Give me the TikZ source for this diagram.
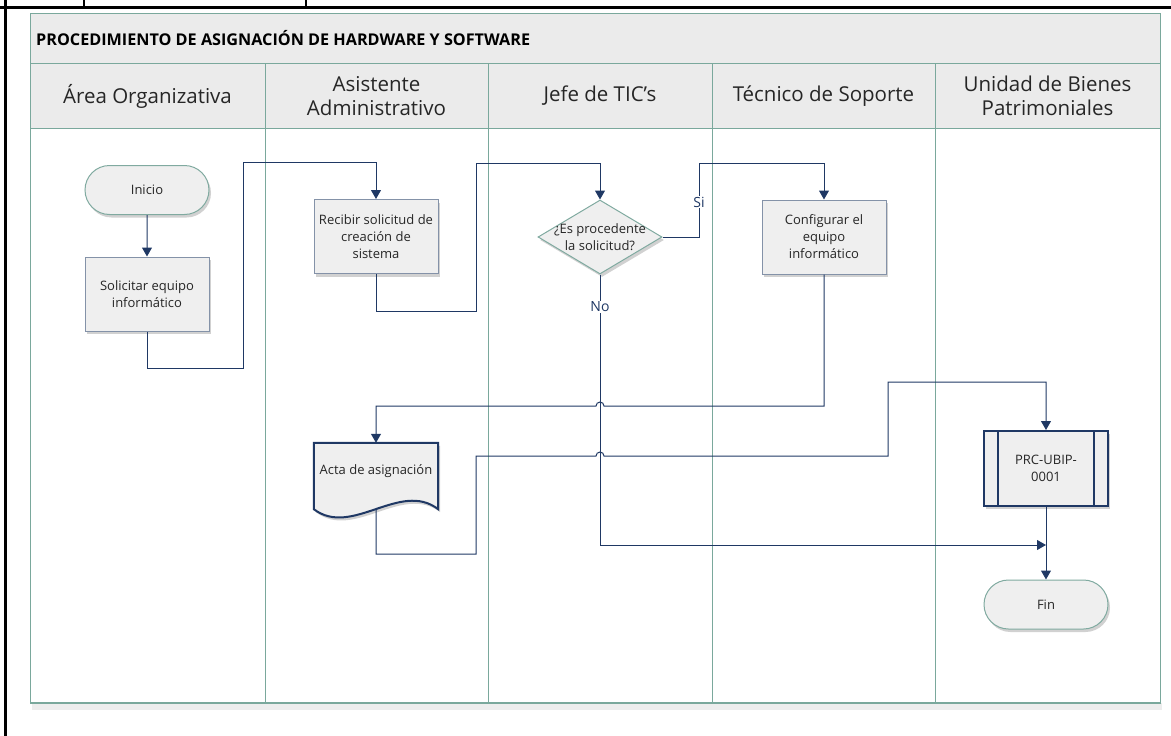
\documentclass[tikz,border=0pt]{standalone}
\usepackage{fontspec}
\setmainfont{Open Sans}
\usetikzlibrary{shapes.geometric,shapes.misc,shadows,arrows.meta,calc}
\definecolor{lanec}{HTML}{7AA89C}
\definecolor{navy}{HTML}{1F3864}
\definecolor{hdr}{HTML}{EBEBEB}
\definecolor{nfill}{HTML}{EFEFEF}
\definecolor{pborder}{HTML}{8492A8}
\definecolor{tborder}{HTML}{80AAA0}
\definecolor{txt}{HTML}{262626}
\tikzset{
  shd/.style={drop shadow={shadow xshift=2pt,shadow yshift=-3pt,fill=black,opacity=0.18}},
  nodetext/.style={font=\fontsize{13}{17}\selectfont,text=txt,align=center},
  procbox/.style={rectangle,draw=pborder,line width=1pt,fill=nfill,minimum width=124pt,minimum height=74pt,inner sep=0pt,shd,nodetext},
  termbox/.style={rounded rectangle,draw=tborder,line width=1pt,fill=nfill,minimum width=124pt,minimum height=49pt,inner sep=0pt,shd,nodetext},
  decbox/.style={diamond,draw=tborder,line width=1pt,fill=nfill,minimum width=124pt,minimum height=74pt,inner sep=0pt,shd},
  subbox/.style={rectangle,draw=navy,line width=2pt,fill=nfill,minimum width=124pt,minimum height=75pt,inner sep=0pt,shd,nodetext},
  conn/.style={draw=navy,line width=1pt},
  arr/.style={conn,-{Triangle[width=10pt,length=9pt]}},
  lanehead/.style={font=\fontsize{20.5}{24}\selectfont,text=txt,align=center},
  lbl/.style={fill=white,inner sep=1pt,font=\fontsize{14}{16}\selectfont,text=navy},
}
\begin{document}
\begin{tikzpicture}[x=1pt,y=-1pt]
\useasboundingbox (0,0) rectangle (1171,736);
% outer document table lines
\draw[line width=3pt] (0,7) -- (1171,7);
\draw[line width=3pt] (5,0) -- (5,736);
\draw[line width=2pt] (84,0) -- (84,7);
\draw[line width=2pt] (306,0) -- (306,7);
% swimlane frame
\fill[black,opacity=0.07] (32,703) rectangle (1162,710);
\fill[hdr] (30,13) rectangle (1160,128);
\draw[lanec,line width=1pt] (30,13) rectangle (1160,703);
\draw[lanec,line width=1pt] (30,63) -- (1160,63);
\draw[lanec,line width=1pt] (30,128) -- (1160,128);
\draw[lanec,line width=2.5pt] (30,703) -- (1160,703);
\foreach \xx in {265,488,712,935} \draw[lanec,line width=1pt] (\xx,63) -- (\xx,703);
\node[anchor=west,font=\bfseries\fontsize{16.2}{19}\selectfont,text=black,inner sep=0pt] (title) at (36,38) {PROCEDIMIENTO DE ASIGNACIÓN DE HARDWARE Y SOFTWARE};
\node[lanehead] (h1) at (147.5,96) {Área Organizativa};
\node[lanehead] (h2) at (376.5,96) {Asistente\\Administrativo};
\node[lanehead] (h3) at (600,96) {Jefe de TIC’s};
\node[lanehead] (h4) at (823.5,96) {Técnico de Soporte};
\node[lanehead] (h5) at (1047.5,96) {Unidad de Bienes\\Patrimoniales};
% nodes
\node[termbox] (ini) at (147,190) {Inicio};
\node[procbox] (sol) at (147,294) {Solicitar equipo\\informático};
\node[procbox] (rec) at (376,236.5) {Recibir solicitud de\\creación de\\sistema};
\node[decbox] (dec) at (600,237) {};
\node[nodetext] (dect) at (600,237) {¿Es procedente\\la solicitud?};
\node[procbox] (conf) at (824,237) {Configurar el\\equipo\\informático};
% document shape
\node[minimum width=124pt,minimum height=66pt,inner sep=0pt] (acta) at (376,476) {};
\filldraw[navy,line width=2pt,fill=nfill,shd]
  (acta.north west) -- (acta.north east) -- (acta.south east) .. controls (400,480) and (352,538) .. (acta.south west) -- cycle;
\node[nodetext] (actat) at (376,471) {Acta de asignación};
\node[subbox] (prc) at (1046,468.5) {PRC-UBIP-\\0001};
\draw[navy,line width=2pt] ($(prc.north west)+(15,0)$) -- ($(prc.south west)+(15,0)$);
\draw[navy,line width=2pt] ($(prc.north east)+(-15,0)$) -- ($(prc.south east)+(-15,0)$);
\node[termbox] (fin) at (1046,604.5) {Fin};
% connectors
\draw[arr] (ini) -- (sol);
\draw[arr] (sol.south) -- (147,368) -- (243,368) -- (243,162) -| (rec.north);
\draw[arr] (rec.south) -- (376,311) -- (476,311) -- (476,163) -| (dec.north);
\draw[arr] (dec.east) -- (699,237) -- (699,163) -| (conf.north);
\node[lbl] (si) at (699,202) {Si};
\coordinate (nojoin) at (1046,545);
\draw[arr] (dec.south) -- (600,545) -- (nojoin);
\node[lbl] (no) at (600,307) {No};
\draw[arr] (conf.south) -- (824,406) -- (604,406) arc[start angle=0,end angle=-180,radius=4] -- (376,406) -- (acta.north);
\draw[arr] (acta.south) -- (376,554) -- (476,554) -- (476,456) -- (596,456) arc[start angle=180,end angle=360,radius=4] -- (888,456) -- (888,382) -| (prc.north);
\draw[arr] (prc) -- (fin);
\end{tikzpicture}
\end{document}
